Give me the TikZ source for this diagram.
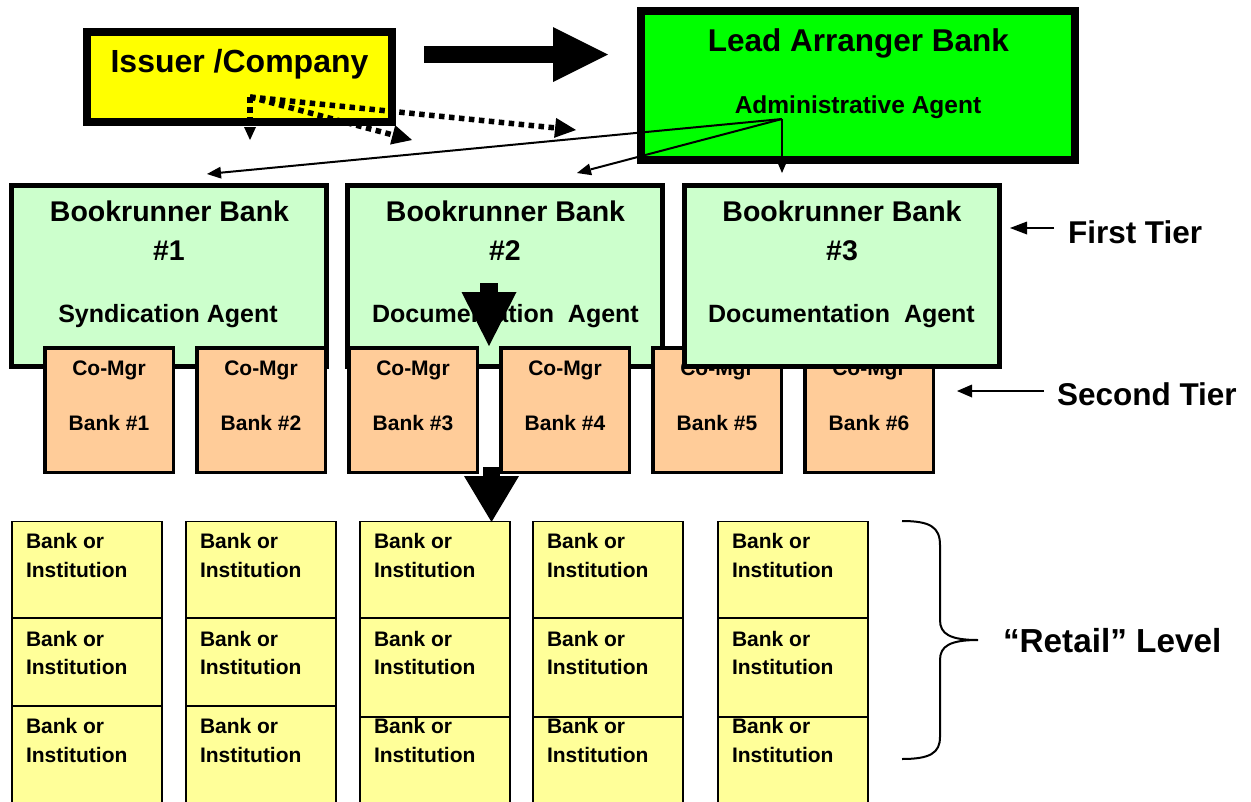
\documentclass[tikz,border=0pt]{standalone}
\usepackage{fontspec}
\setmainfont{Liberation Sans}
\usetikzlibrary{arrows.meta}
\newcommand\myfs[1]{\fontsize{#1}{#1}\selectfont\bfseries}
\definecolor{issuerfill}{HTML}{FFFF00}
\definecolor{leadfill}{HTML}{00FF00}
\definecolor{brfill}{HTML}{CCFFCC}
\definecolor{cmfill}{HTML}{FFCC99}
\definecolor{bankfill}{HTML}{FFFF99}
\begin{document}
\begin{tikzpicture}[x=1pt,y=-1pt,
  box/.style={draw=black, rectangle, inner sep=0pt, outer sep=0pt},
  issuerbox/.style={box, fill=issuerfill, line width=8pt, minimum width=305pt, minimum height=90pt},
  leadbox/.style={box, fill=leadfill, line width=8pt, minimum width=434pt, minimum height=149pt},
  brbox/.style={box, fill=brfill, line width=5pt, minimum width=315pt, minimum height=181pt},
  cmbox/.style={box, fill=cmfill, line width=3.5pt, minimum width=128.5pt, minimum height=124.5pt},
  bankbox/.style={box, fill=bankfill, line width=1.8pt, minimum width=150pt},
  txt/.style={inner sep=0pt, outer sep=0pt, anchor=base},
  ltxt/.style={inner sep=0pt, outer sep=0pt, anchor=base west},
  thinarrow/.style={line width=2pt, -{Triangle[length=14pt,width=12pt,line width=0pt]}},
  dotarrow/.style={line width=5.5pt, dash pattern=on 5.5pt off 4.5pt},
]
\useasboundingbox (0,0) rectangle (1251,801);
\clip (0,0) rectangle (1251,801);
\fill[white] (0,0) rectangle (1251,801);

% Issuer
\node[issuerbox] (issuer) at (239.5,77) {};
\node[txt, font=\myfs{32}] (issuertxt) at (239.5,72) {Issuer /Company};

% Lead arranger
\node[leadbox] (lead) at (858,85.5) {};
\node[txt, font=\myfs{31.5}] (leadtxt) at (858.5,51) {Lead Arranger Bank};
\node[txt, font=\myfs{24.5}] (admintxt) at (858,113) {Administrative Agent};

% big arrow issuer -> lead
\coordinate (ha0) at (424,54.5);
\coordinate (ha1) at (608,54.5);
\draw[line width=17pt, -{Triangle[length=55pt,width=55pt,line width=0pt]}] (ha0) -- (ha1);

% dotted arrows from issuer
\coordinate (dstart) at (250,97);
\coordinate (dend1) at (250,140);
\coordinate (dend2) at (412,140);
\coordinate (dend3) at (576,130);
\draw[dotarrow, -{Triangle[length=13pt,width=12pt,line width=0pt]}] (dstart) -- (dend1);
\draw[dotarrow, -{Triangle[length=20pt,width=20pt,line width=0pt]}] (dstart) -- (dend2);
\draw[dotarrow, -{Triangle[length=21pt,width=20pt,line width=0pt]}] (dstart) -- (dend3);

% admin agent connectors
\coordinate (adm) at (782,119);
\coordinate (tip1) at (207,174);
\coordinate (tip2) at (577,173);
\coordinate (tip3) at (782,173);
\draw[thinarrow] (adm) -- (tip1);
\draw[thinarrow] (adm) -- (tip2);
\draw[thinarrow] (adm) -- (tip3);

% Bookrunner 1 and 2
\node[brbox] (br1) at (168.5,275.5) {};
\node[txt, font=\myfs{28.5}] (br1a) at (169.5,221) {Bookrunner Bank};
\node[txt, font=\myfs{28.5}] (br1b) at (169,260) {\#1};
\node[txt, font=\myfs{25}] (br1c) at (168,322) {Syndication Agent};

\node[brbox] (br2) at (505,276) {};
\node[txt, font=\myfs{28.5}] (br2a) at (505.5,221) {Bookrunner Bank};
\node[txt, font=\myfs{28.5}] (br2b) at (505,260) {\#2};
\node[txt, font=\myfs{25}] (br2c) at (505.5,322) {Documentation\ \ Agent};

% Co-managers
\foreach \i in {1,...,6} {
  \pgfmathsetmacro\cx{109+152*(\i-1)}
  \node[cmbox] (cm\i) at (\cx,410) {};
  \node[txt, font=\myfs{21}] (cm\i a) at (\cx,375) {Co-Mgr};
  \node[txt, font=\myfs{21}] (cm\i b) at (\cx,430) {Bank \#\i};
}

% Bookrunner 3
\node[brbox] (br3) at (842,276) {};
\node[txt, font=\myfs{28.5}] (br3a) at (842,221) {Bookrunner Bank};
\node[txt, font=\myfs{28.5}] (br3b) at (842,260) {\#3};
\node[txt, font=\myfs{25}] (br3c) at (841.5,322) {Documentation\ \ Agent};

% Bank or Institution grid
\foreach \c/\xl/\rt in {1/11/706,2/185/706,3/359/717,4/532/717,5/717/717} {
  \pgfmathsetmacro\bx{\xl+76}
  \pgfmathsetmacro\tx{\xl+15}
  \pgfmathsetmacro\rtwoc{(618+\rt)/2}
  \pgfmathsetmacro\rtwoh{\rt-618}
  \pgfmathsetmacro\rthrc{(\rt+830)/2}
  \pgfmathsetmacro\rthrh{830-\rt}
  \node[bankbox, minimum height=97pt] (bk\c a) at (\bx,570) {};
  \node[bankbox, minimum height=\rtwoh pt] (bk\c b) at (\bx,\rtwoc) {};
  \node[bankbox, minimum height=\rthrh pt] (bk\c c) at (\bx,\rthrc) {};
  \node[ltxt, font=\myfs{21}] (bt\c a1) at (\tx,548) {Bank or};
  \node[ltxt, font=\myfs{21}] (bt\c a2) at (\tx,577) {Institution};
  \node[ltxt, font=\myfs{21}] (bt\c b1) at (\tx,646) {Bank or};
  \node[ltxt, font=\myfs{21}] (bt\c b2) at (\tx,674) {Institution};
  \node[ltxt, font=\myfs{21}] (bt\c c1) at (\tx,733) {Bank or};
  \node[ltxt, font=\myfs{21}] (bt\c c2) at (\tx,762) {Institution};
}

% vertical block arrows
\coordinate (va0) at (489,283);
\coordinate (va1) at (489,346);
\draw[line width=18pt, -{Triangle[length=54pt,width=55pt,line width=0pt]}] (va0) -- (va1);
\coordinate (vb0) at (491.5,467);
\coordinate (vb1) at (491.5,522);
\draw[line width=17pt, -{Triangle[length=46pt,width=55pt,line width=0pt]}] (vb0) -- (vb1);

% tier labels
\coordinate (ft0) at (1054,228);
\coordinate (ft1) at (1010,228);
\draw[line width=2pt, -{Triangle[length=17pt,width=13pt,line width=0pt]}] (ft0) -- (ft1);
\node[ltxt, font=\myfs{31.5}] (firsttier) at (1068,243) {First Tier};
\coordinate (st0) at (1044,391);
\coordinate (st1) at (957,391);
\draw[line width=2pt, -{Triangle[length=15pt,width=13pt,line width=0pt]}] (st0) -- (st1);
\node[ltxt, font=\myfs{31.5}] (secondtier) at (1057,405) {Second Tier};

% brace and retail label
\draw[line width=2pt] (902,521) .. controls (930,521) and (940,527) .. (940,545)
  -- (940,620) .. controls (940,634) and (950,640) .. (978,640)
  .. controls (950,640) and (940,646) .. (940,660)
  -- (940,737) .. controls (940,753) and (930,759) .. (902,759);
\node[ltxt, font=\myfs{33.3}] (retail) at (1003,652) {“Retail” Level};
\end{tikzpicture}
\end{document}
